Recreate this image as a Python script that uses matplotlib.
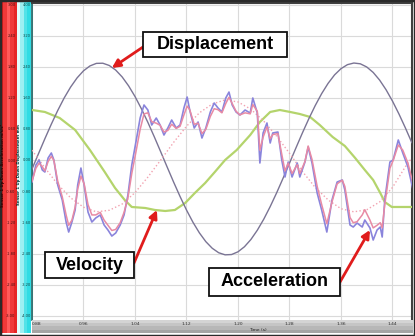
import matplotlib.pyplot as plt
import matplotlib.transforms as mtransforms
from matplotlib.patches import Rectangle
import numpy as np

# axis ticks
time_ticks = [0.88, 0.96, 1.04, 1.12, 1.20, 1.28, 1.36, 1.44]
disp_ticks = [4.0, 3.2, 2.4, 1.6, 0.8, 0.0, -0.8, -1.6, -2.4, -3.2, -4.0]
acc_ticks = [3.0, 2.4, 1.8, 1.2, 0.6, 0.0, -0.6, -1.2, -1.8, -2.4, -3.0]

# displacement (mm), sampled every 10 ms from 0.88 s
disp_t = np.round(np.arange(0.88, 1.475, 0.01), 2)
disp_v = [-0.219, 0.172, 0.560, 0.934, 1.287, 1.609, 1.889, 2.124, 2.307, 2.432,
          2.498, 2.502, 2.444, 2.326, 2.150, 1.921, 1.646, 1.329, 0.980, 0.608,
          0.221, -0.170, -0.556, -0.927, -1.274, -1.588, -1.861, -2.087, -2.258, -2.373,
          -2.427, -2.419, -2.349, -2.219, -2.033, -1.794, -1.510, -1.186, -0.833, -0.457,
          -0.068, 0.323, 0.707, 1.073, 1.414, 1.721, 1.985, 2.202, 2.362, 2.465,
          2.507, 2.487, 2.405, 2.265, 2.068, 1.820, 1.527, 1.197, 0.839, 0.460]

# velocity (drawn on displacement scale)
vel_t = [0.880, 0.900, 0.923, 0.947, 0.970, 0.993, 1.009, 1.024, 1.035, 1.056,
         1.071, 1.087, 1.102, 1.118, 1.133, 1.149, 1.164, 1.180, 1.198, 1.219,
         1.234, 1.250, 1.265, 1.281, 1.296, 1.312, 1.327, 1.347, 1.366, 1.382,
         1.397, 1.410, 1.421, 1.428, 1.439, 1.452, 1.472]
vel_v = [1.299, 1.248, 1.093, 0.785, 0.270, -0.296, -0.707, -1.016, -1.196, -1.222,
         -1.273, -1.299, -1.273, -1.093, -0.836, -0.579, -0.296, 0.013, 0.270, 0.656,
         0.990, 1.248, 1.299, 1.248, 1.196, 1.119, 0.913, 0.605, 0.373, 0.064,
         -0.244, -0.502, -0.836, -1.068, -1.196, -1.196, -1.196]

# acceleration (m/s/s), raw and filtered
acc_t = [0.880, 0.886, 0.891, 0.896, 0.900, 0.905, 0.910, 0.914, 0.920, 0.927,
         0.933, 0.937, 0.942, 0.947, 0.951, 0.956, 0.961, 0.967, 0.973, 0.979,
         0.986, 0.992, 0.998, 1.004, 1.010, 1.017, 1.023, 1.029, 1.035, 1.042,
         1.048, 1.054, 1.060, 1.066, 1.073, 1.079, 1.085, 1.091, 1.097, 1.104,
         1.110, 1.116, 1.121, 1.125, 1.132, 1.138, 1.144, 1.150, 1.157, 1.163,
         1.169, 1.175, 1.181, 1.186, 1.191, 1.197, 1.203, 1.211, 1.219, 1.223,
         1.230, 1.234, 1.239, 1.245, 1.250, 1.254, 1.262, 1.268, 1.273, 1.278,
         1.284, 1.292, 1.296, 1.304, 1.309, 1.315, 1.323, 1.330, 1.338, 1.346,
         1.354, 1.362, 1.366, 1.374, 1.379, 1.385, 1.393, 1.397, 1.405, 1.410,
         1.416, 1.421, 1.424, 1.428, 1.436, 1.441, 1.449, 1.456, 1.464, 1.472]
acc_raw = [-0.415, -0.087, 0.010, -0.183, -0.222, 0.048, 0.145, 0.010, -0.473, -0.762,
           -1.187, -1.380, -1.187, -0.955, -0.473, -0.145, -0.473, -0.994, -1.187, -1.109,
           -1.051, -1.244, -1.341, -1.457, -1.399, -1.244, -1.051, -0.666, -0.087, 0.396,
           0.820, 1.071, 0.974, 0.685, 0.820, 0.685, 0.492, 0.627, 0.781, 0.627,
           0.685, 1.013, 1.225, 0.974, 0.627, 0.743, 0.434, 0.627, 0.936, 1.109,
           1.013, 0.936, 1.206, 1.321, 1.071, 0.936, 0.878, 0.974, 0.916, 1.206,
           0.916, -0.048, 0.531, 0.724, 0.338, 0.531, 0.550, 0.010, -0.318, -0.029,
           -0.318, -0.048, -0.318, -0.029, 0.260, -0.048, -0.627, -0.955, -1.380, -0.762,
           -0.415, -0.376, -0.569, -1.244, -1.283, -1.206, -1.283, -1.148, -1.302, -1.534,
           -1.341, -1.283, -1.476, -0.762, -0.029, 0.010, 0.396, 0.145, -0.125, -0.569]
acc_filt = [-0.40, -0.15, -0.05, -0.12, -0.20, -0.02, 0.08, 0.00, -0.40, -0.70,
            -1.05, -1.25, -1.15, -0.90, -0.55, -0.30, -0.45, -0.85, -1.05, -1.05,
            -1.00, -1.15, -1.25, -1.35, -1.33, -1.20, -1.00, -0.72, -0.25, 0.20,
            0.60, 0.90, 0.92, 0.75, 0.72, 0.68, 0.55, 0.58, 0.70, 0.62,
            0.66, 0.88, 1.05, 0.98, 0.70, 0.72, 0.52, 0.60, 0.85, 1.00,
            0.98, 0.92, 1.10, 1.22, 1.10, 0.95, 0.88, 0.92, 0.90, 1.08,
            0.95, 0.20, 0.45, 0.65, 0.42, 0.50, 0.52, 0.12, -0.20, -0.05,
            -0.25, -0.08, -0.25, -0.02, 0.28, 0.02, -0.50, -0.85, -1.22, -0.80,
            -0.45, -0.38, -0.50, -1.10, -1.20, -1.18, -1.05, -0.95, -1.15, -1.30,
            -1.25, -1.20, -1.30, -0.85, -0.15, 0.00, 0.30, 0.20, -0.05, -0.45]
# smooth fit of acceleration
fit_t = [0.88, 0.90, 0.92, 0.94, 0.96, 0.98, 1.00, 1.02, 1.04, 1.06,
         1.08, 1.10, 1.12, 1.14, 1.16, 1.18, 1.20, 1.22, 1.24, 1.26,
         1.28, 1.30, 1.32, 1.34, 1.36, 1.38, 1.40, 1.42, 1.44, 1.46, 1.47]
fit_v = [0.20, -0.14, -0.46, -0.72, -0.90, -0.99, -0.96, -0.84, -0.62, -0.32,
         0.01, 0.35, 0.66, 0.92, 1.09, 1.17, 1.13, 0.99, 0.76, 0.47,
         0.14, -0.21, -0.52, -0.76, -0.93, -0.99, -0.95, -0.80, -0.52, -0.12, 0.05]

W, H = 415, 336
fig = plt.figure(figsize=(W / 100, H / 100), dpi=100)
fig.patch.set_facecolor('white')


def px_axes(x0, y0, x1, y1):
    return fig.add_axes([x0 / W, 1 - y1 / H, (x1 - x0) / W, (y1 - y0) / H])


# main plot
ax = px_axes(32, 3, 412, 320)
ax.set_xlim(0.88, 1.4703)
ax.set_ylim(-4.103, 4.051)
ax.set_xticks(time_ticks)
ax.set_yticks(disp_ticks)
ax.tick_params(length=0, labelbottom=False, labelleft=False)
ax.grid(color='#dadada', lw=0.8)
ax.set_axisbelow(True)
ax.spines['bottom'].set_visible(False)
ax.spines['left'].set_color('#1a6060')
ax.spines['left'].set_linewidth(1.2)
ax.spines['top'].set_color('#404040')
ax.spines['top'].set_linewidth(1.5)
ax.spines['right'].set_color('#404040')
ax.spines['right'].set_linewidth(1.5)

ax2 = ax.twinx()
ax2.set_ylim(-3.077, 3.039)
ax2.axis('off')

ax.plot(vel_t, vel_v, color='#b4d46c', lw=1.6, zorder=3)
ax.plot(disp_t, disp_v, color='#7a7494', lw=1.0, zorder=4)
ax2.plot(fit_t, fit_v, color='#f2a2b0', lw=1.0, ls=':', zorder=3)
ax2.plot(acc_t, acc_raw, color='#8a84dc', lw=1.2, zorder=4)
ax2.plot(acc_t, acc_filt, color='#e88aa4', lw=1.1, zorder=5)

# side bands with scales
red_band = px_axes(0, 0, 16, 333)
red_band.imshow([[0.0, 0.5, 1.0, 0.5, 0.2]], aspect='auto', extent=(0, 1, 0, 1),
                cmap=plt.matplotlib.colors.LinearSegmentedColormap.from_list('r', ['#e01818', '#ff5a5a']))
red_band.set_xlim(0, 1)
red_band.set_ylim(0, 1)
red_band.axis('off')
cyan_band = px_axes(17, 0, 31, 333)
cyan_band.imshow([[0.0, 0.4, 0.8, 1.0]], aspect='auto', extent=(0, 1, 0, 1),
                 cmap=plt.matplotlib.colors.LinearSegmentedColormap.from_list('c', ['#e4fcfc', '#30dce4']))
cyan_band.set_xlim(0, 1)
cyan_band.set_ylim(0, 1)
cyan_band.axis('off')

tr_red = mtransforms.blended_transform_factory(red_band.transAxes, ax2.transData)
tr_cyan = mtransforms.blended_transform_factory(cyan_band.transAxes, ax.transData)
for v in acc_ticks:
    fig.text(0.98, v, f'{v:.2f}', transform=tr_red, fontsize=2.6, color='#4a1010',
             ha='right', va='center')
for v in disp_ticks:
    fig.text(0.98, v, f'{v:.2f}', transform=tr_cyan, fontsize=2.6, color='#104848',
             ha='right', va='center')
fig.text(0.2, -0.1, 'Sensor 1 Up Down Acceleration m/s/s²', transform=tr_red,
         fontsize=2.8, rotation=90, ha='center', va='center', color='#300000', weight='bold')
fig.text(0.14, -0.1, 'Sensor 1 Up Down Displacement mm', transform=tr_cyan,
         fontsize=2.8, rotation=90, ha='center', va='center', color='#003030', weight='bold')

# time bar
bar = px_axes(32, 320, 412, 333)
bar.imshow([[0.0], [0.3], [0.6], [1.0]], aspect='auto', extent=(0.88, 1.4703, 0, 1),
           cmap=plt.matplotlib.colors.LinearSegmentedColormap.from_list('g', ['#d4d4d4', '#a4a4a4']))
bar.set_xlim(0.88, 1.4703)
bar.set_ylim(0, 1)
bar.axis('off')
for t in time_ticks:
    bar.text(t, 0.68, f'{t:.2f}', fontsize=3.2, color='#303030',
             ha='left' if t == time_ticks[0] else 'center', va='center')
bar.text(1.231, 0.2, 'Time (s)', fontsize=3.2, color='#202020', ha='center', va='center')

# outer frame
fig.add_artist(Rectangle((0, 0), 1, 1, transform=fig.transFigure, fill=False,
                         ec='#2a2a2a', lw=2.5))


# callout boxes
def callout(x0, y0, x1, y1, label, start, head, axes):
    fig.add_artist(Rectangle((x0 / W, 1 - y1 / H), (x1 - x0) / W, (y1 - y0) / H,
                             transform=fig.transFigure, fc='white', ec='#101010', lw=1.3, zorder=10))
    fig.text((x0 + x1) / 2 / W, 1 - (y0 + y1) / 2 / H, label, fontsize=13, weight='bold',
             family='Liberation Sans', ha='center', va='center', zorder=11)
    axes.annotate('', xy=head, xycoords='data',
                  xytext=(start[0] / W, 1 - start[1] / H), textcoords='figure fraction',
                  arrowprops=dict(arrowstyle='-|>', color='#e01c1c', lw=2.0, mutation_scale=12,
                                  shrinkA=0, shrinkB=0), zorder=12)


callout(143, 32, 287, 57, 'Displacement', (143, 47), (1.004, 2.379), ax)
callout(45, 252, 134, 278, 'Velocity', (134, 263), (1.074, -1.273), ax)
callout(209, 268, 340, 296, 'Acceleration', (340, 282), (1.405, -1.788), ax)

fig.savefig('out.png', dpi=100)
